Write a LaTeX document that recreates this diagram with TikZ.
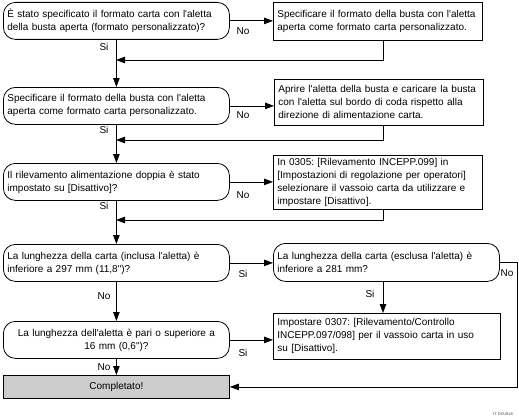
\documentclass[tikz,border=0pt]{standalone}
\usepackage{fontspec}
\setmainfont{Liberation Sans}[Ligatures=TeXOff]
\usetikzlibrary{arrows.meta}
\frenchspacing
\begin{document}
\begin{tikzpicture}[x=1pt,y=-1pt,
  every node/.style={font=\fontsize{10}{13}\selectfont\frenchspacing},
  box/.style={draw, line width=0.8pt, inner xsep=4pt, inner ysep=0pt, align=left, anchor=north west},
  dec/.style={box, rounded corners=12pt},
  lbl/.style={font=\fontsize{10}{12}\selectfont, inner sep=0pt},
  conn/.style={line width=0.8pt},
  arr/.style={conn, -{Triangle[length=9pt,width=6.5pt]}},
]
\useasboundingbox (0,0) rectangle (519,420);
\coordinate (rx) at (383,0);
\coordinate (ox) at (517,0);

\node[dec, minimum width=226pt, minimum height=37pt, text width=218pt] (b1) at (3,2)
  {\mbox{È stato specificato il formato carta con l'aletta}\\\mbox{della busta aperta (formato personalizzato)?}};
\node[box, minimum width=209pt, minimum height=38pt, text width=201pt] (r1) at (273,2)
  {\mbox{Specificare il formato della busta con l'aletta}\\\mbox{aperta come formato carta personalizzato.}};
\node[dec, minimum width=226pt, minimum height=37pt, text width=218pt] (b2) at (3,87)
  {\mbox{Specificare il formato della busta con l'aletta}\\\mbox{aperta come formato carta personalizzato.}};
\node[box, minimum width=209pt, minimum height=46pt, text width=201pt] (r2) at (274,79)
  {\mbox{Aprire l'aletta della busta e caricare la busta}\\\mbox{con l'aletta sul bordo di coda rispetto alla}\\\mbox{direzione di alimentazione carta.}};
\node[dec, minimum width=226pt, minimum height=37pt, text width=218pt] (b3) at (3,163)
  {\mbox{Il rilevamento alimentazione doppia è stato}\\\mbox{impostato su [Disattivo]?}};
\node[box, minimum width=209pt, minimum height=54pt, text width=201pt] (r3) at (273,155)
  {\mbox{In 0305: [Rilevamento INCEPP.099] in}\\\mbox{[Impostazioni di regolazione per operatori]}\\\mbox{selezionare il vassoio carta da utilizzare e}\\\mbox{impostare [Disattivo].}};
\node[dec, minimum width=226pt, minimum height=37pt, text width=218pt] (b4) at (3,244)
  {\mbox{La lunghezza della carta (inclusa l'aletta) è}\\\mbox{inferiore a 297 mm (11,8")?}};
\node[dec, minimum width=226pt, minimum height=38pt, text width=218pt] (r4) at (273,243)
  {\mbox{La lunghezza della carta (esclusa l'aletta) è}\\\mbox{inferiore a 281 mm?}};
\node[dec, minimum width=226pt, minimum height=37pt, text width=218pt, align=center] (b5) at (3,321)
  {\mbox{La lunghezza dell'aletta è pari o superiore a}\\\mbox{16 mm (0,6")?}};
\node[box, minimum width=227pt, minimum height=46pt, text width=219pt] (r5) at (273,313)
  {\mbox{Impostare 0307: [Rilevamento/Controllo}\\\mbox{INCEPP.097/098] per il vassoio carta in uso}\\\mbox{su [Disattivo].}};
\node[box, fill=black!20, minimum width=226pt, minimum height=23pt, text width=218pt, align=center] (done) at (3,375)
  {Completato!};

\coordinate (j1) at (116,60);
\coordinate (j2) at (116,140);
\coordinate (j3) at (116,220);

% row 1
\draw[arr] (b1.east) -- (b1.east -| r1.west);
\node[lbl] (n1) at (243,31) {No};
\draw[arr] (b1.south) -- (b2.north);
\node[lbl] (s1) at (104,47) {Si};
\draw[arr] (r1.south -| rx) |- (j1);
% row 2
\draw[arr] (b2.east) -- (b2.east -| r2.west);
\node[lbl] (n2) at (243,115) {No};
\draw[arr] (b2.south) -- (b3.north);
\node[lbl] (s2) at (104,130) {Si};
\draw[arr] (r2.south -| rx) |- (j2);
% row 3
\draw[arr] (b3.east) -- (b3.east -| r3.west);
\node[lbl] (n3) at (243,195) {No};
\draw[arr] (b3.south) -- (b4.north);
\node[lbl] (s3) at (104,206) {Si};
\draw[arr] (r3.south -| rx) |- (j3);
% row 4
\draw[arr] (b4.east) -- (b4.east -| r4.west);
\node[lbl] (s4) at (243,274) {Si};
\draw[arr] (b4.south) -- (b5.north);
\node[lbl] (n4) at (104,296) {No};
\draw[arr] (r4.south -| rx) -- (r5.north -| rx);
\node[lbl] (s5) at (370,294) {Si};
\draw[arr] (r4.east) -- (r4.east -| ox) -- (ox |- done.east) -- (done.east);
\node[lbl] (n5) at (507,273) {No};
% row 5
\draw[arr] (b5.east) -- (b5.east -| r5.west);
\node[lbl] (s6) at (243,353) {Si};
\draw[arr] (b5.south) -- (done.north);
\node[lbl] (n6) at (104,367) {No};

\node[font=\fontsize{4}{5}\selectfont, text=black!70, inner sep=0pt] (code) at (503,414) {IT DXU818};
\end{tikzpicture}
\end{document}
